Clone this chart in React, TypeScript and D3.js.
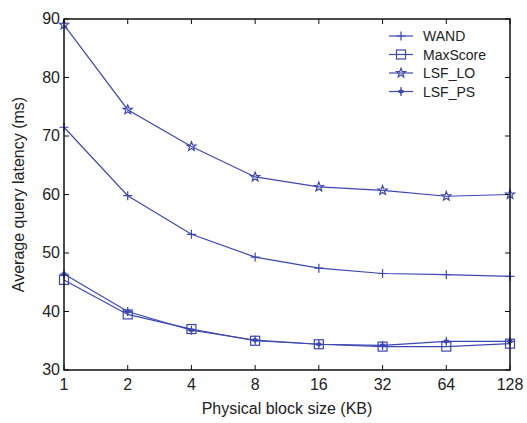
import React from "react";
import * as d3 from "d3";

const blockSizes = [1, 2, 4, 8, 16, 32, 64, 128];
const wand = [71.5, 59.8, 53.2, 49.3, 47.4, 46.5, 46.3, 46.0];
const maxScore = [45.4, 39.5, 37.0, 35.0, 34.4, 34.0, 34.0, 34.5];
const lsfLO = [89.0, 74.5, 68.2, 63.0, 61.3, 60.7, 59.7, 60.0];
const lsfPS = [46.4, 40.0, 36.8, 35.1, 34.4, 34.2, 34.9, 34.9];
const yTicks = [30, 40, 50, 60, 70, 80, 90];
const seriesNames = ["WAND", "MaxScore", "LSF_LO", "LSF_PS"];

const W = 527, H = 423;
const M = { left: 64, right: 17, top: 19, bottom: 53 };
const COLOR = "#3d47b3";
const FONT = "'Liberation Sans', Arial, Helvetica, sans-serif";

function starPath(cx: number, cy: number, n: number, ro: number, ri: number) {
  const pts: [number, number][] = [];
  for (let i = 0; i < n * 2; i++) {
    const r = i % 2 === 0 ? ro : ri;
    const a = -Math.PI / 2 + (i * Math.PI) / n;
    pts.push([cx + r * Math.cos(a), cy + r * Math.sin(a)]);
  }
  return "M" + pts.map((p) => p.join(",")).join("L") + "Z";
}

function Marker({ kind, x, y }: { kind: string; x: number; y: number }) {
  if (kind === "WAND") {
    return (
      <path d={`M${x - 4.5},${y}H${x + 4.5}M${x},${y - 4.5}V${y + 4.5}`} stroke={COLOR} strokeWidth={1.2} fill="none" />
    );
  }
  if (kind === "MaxScore") {
    return <rect x={x - 4.5} y={y - 4.5} width={9} height={9} stroke={COLOR} strokeWidth={1.2} fill="none" />;
  }
  if (kind === "LSF_LO") {
    return <path d={starPath(x, y, 5, 4.8, 2.0)} stroke={COLOR} strokeWidth={1.2} fill="none" />;
  }
  return (
    <g>
      <path d={`M${x - 4.5},${y}H${x + 4.5}M${x},${y - 4.5}V${y + 4.5}`} stroke={COLOR} strokeWidth={1.2} fill="none" />
      <path d={starPath(x, y, 6, 3.2, 1.8)} fill={COLOR} stroke="none" />
    </g>
  );
}

export default function App() {
  const x = d3.scaleLog().base(2).domain([1, 128]).range([M.left, W - M.right]);
  const y = d3.scaleLinear().domain([30, 90]).range([H - M.bottom, M.top]);
  const data: Record<string, number[]> = {
    WAND: wand,
    MaxScore: maxScore,
    LSF_LO: lsfLO,
    LSF_PS: lsfPS,
  };
  const line = d3
    .line<number>()
    .x((_, i) => x(blockSizes[i]))
    .y((d) => y(d));
  const x0 = M.left, x1 = W - M.right, y0 = H - M.bottom, y1 = M.top;
  const tl = 5;
  const legX = 392, legY = 36, legDY = 18.5;

  return (
    <svg width={W} height={H} style={{ position: "absolute", left: 0, top: 0, background: "#fff" }}>
      <rect x={0} y={0} width={W} height={H} fill="#fff" />
      {seriesNames.map((s) => (
        <g key={s}>
          <path d={line(data[s]) || ""} fill="none" stroke={COLOR} strokeWidth={1.2} />
          {data[s].map((v, i) => (
            <Marker key={i} kind={s} x={x(blockSizes[i])} y={y(v)} />
          ))}
        </g>
      ))}
      <rect x={x0} y={y1} width={x1 - x0} height={y0 - y1} fill="none" stroke="#111" strokeWidth={1.5} />
      {blockSizes.map((b) => (
        <g key={b}>
          <line x1={x(b)} x2={x(b)} y1={y0} y2={y0 - tl} stroke="#111" strokeWidth={1} />
          <line x1={x(b)} x2={x(b)} y1={y1} y2={y1 + tl} stroke="#111" strokeWidth={1} />
          <text x={x(b)} y={y0 + 20} textAnchor="middle" fontFamily={FONT} fontSize={16} fill="#222">
            {b}
          </text>
        </g>
      ))}
      {yTicks.map((t) => (
        <g key={t}>
          <line x1={x0} x2={x0 + tl} y1={y(t)} y2={y(t)} stroke="#111" strokeWidth={1} />
          <line x1={x1} x2={x1 - tl} y1={y(t)} y2={y(t)} stroke="#111" strokeWidth={1} />
          <text x={x0 - 4} y={y(t) + 5} textAnchor="end" fontFamily={FONT} fontSize={16} fill="#222">
            {t}
          </text>
        </g>
      ))}
      <text x={(x0 + x1) / 2} y={H - 9} textAnchor="middle" fontFamily={FONT} fontSize={16} fill="#222">
        Physical block size (KB)
      </text>
      <text
        transform={`translate(24,${(y0 + y1) / 2}) rotate(-90)`}
        textAnchor="middle"
        fontFamily={FONT}
        fontSize={16}
        fill="#222"
      >
        Average query latency (ms)
      </text>
      {seriesNames.map((s, i) => (
        <g key={s}>
          <line x1={legX - 3} x2={legX + 21} y1={legY + i * legDY} y2={legY + i * legDY} stroke={COLOR} strokeWidth={1.2} />
          <Marker kind={s} x={legX + 9} y={legY + i * legDY} />
          <text x={legX + 31} y={legY + i * legDY + 5} fontFamily={FONT} fontSize={14} fill="#222">
            {s}
          </text>
        </g>
      ))}
    </svg>
  );
}
